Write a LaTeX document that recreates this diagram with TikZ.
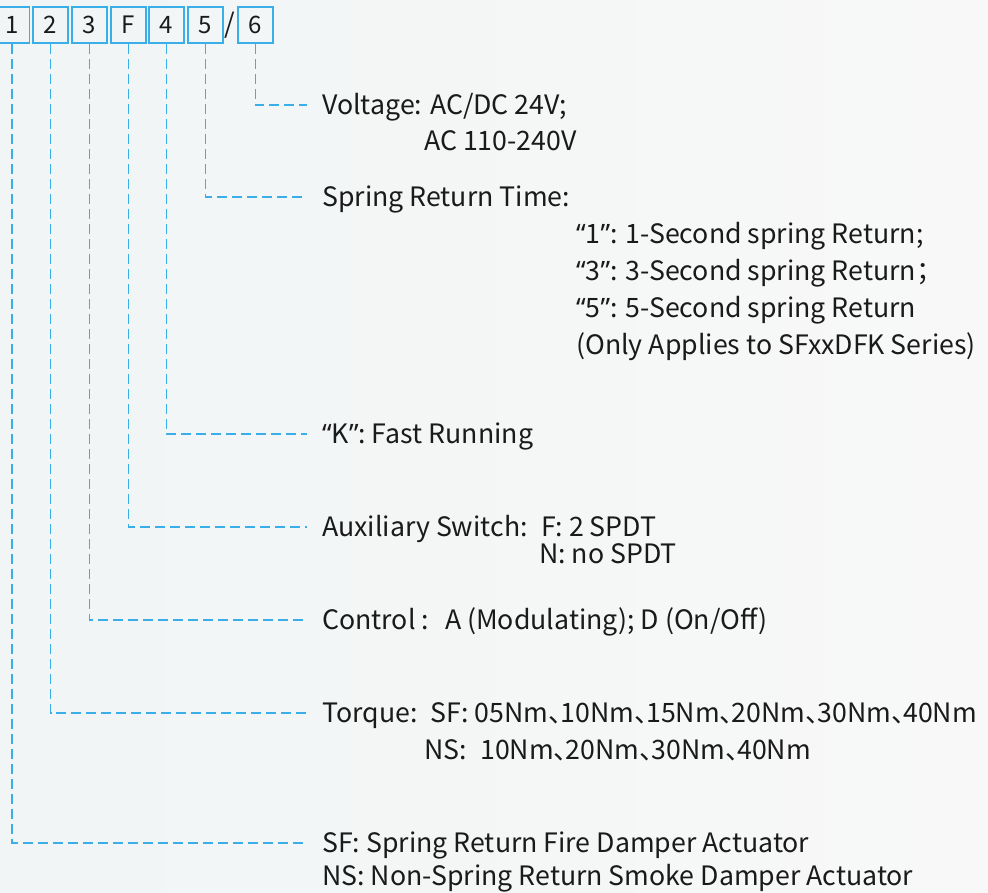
\documentclass[tikz,border=0pt]{standalone}
\usepackage{fontspec}
\setmainfont{Noto Sans CJK SC}
\newfontfamily\qf{Noto Sans}
\definecolor{lineblue}{HTML}{3AAEE6}
\definecolor{txt}{HTML}{1A1A1A}
\definecolor{bgL}{HTML}{F1F5F5}
\definecolor{bgR}{HTML}{F8F8F8}
\newcommand{\dun}{\makebox[0.45em][l]{、}}
\newcommand{\myoq}{{\qf “}}
\newcommand{\mycq}{{\qf ”}}
\begin{document}
\begin{tikzpicture}[x=1pt,y=-1pt,
  digit/.style={draw=lineblue,line width=1.8pt,minimum width=35pt,minimum height=36pt,inner sep=0pt,font=\fontsize{24}{26}\selectfont,text=txt},
  lead/.style={draw=lineblue,line width=1.8pt,dash pattern=on 10pt off 5pt},
  lbl/.style={anchor=west,inner xsep=0pt,inner ysep=0pt,text height=19.5pt,text depth=0pt,font=\fontsize{26.7}{32}\selectfont,text=txt},
]
\shade[left color=bgL,right color=bgR] (0,0) rectangle (988,892);
\useasboundingbox (0,0) rectangle (988,892);

% code boxes
\node[digit] (b1) at (12,25) {1};
\node[digit] (b2) at (50.5,25) {2};
\node[digit] (b3) at (89.5,25) {3};
\node[digit] (bF) at (128.5,25) {F};
\node[digit] (b4) at (166.5,25) {4};
\node[digit] (b5) at (205.5,25) {5};
\node[font=\fontsize{27}{29}\selectfont,text=txt,inner sep=0pt] (sl) at (229.5,25) {/};
\node[digit] (b6) at (255.5,25) {6};

% labels
\node[lbl] (volt) at (322,105) {Voltage: AC/DC 24V;};
\node[lbl] (volt2) at (424,141) {AC 110-240V};

\node[lbl] (spr) at (322,197) {Spring Return Time:};
\node[lbl] (spr1) at (576,234) {\myoq1\mycq: 1-Second spring Return;};
\node[lbl] (spr2) at (576,271) {\myoq3\mycq: 3-Second spring Return；};
\node[lbl] (spr3) at (576,308) {\myoq5\mycq: 5-Second spring Return};
\node[lbl] (spr4) at (576,345) {(Only Applies to SFxxDFK Series)};

\node[lbl] (fast) at (322,434) {\myoq K\mycq: Fast Running};

\node[lbl] (aux) at (322,527) {Auxiliary Switch:\hspace{0.5em}F: 2 SPDT};
\node[lbl] (aux2) at (539,554) {N: no SPDT};

\node[lbl] (ctl) at (322,620) {Control :\hspace{0.6em}A (Modulating); D (On/Off)};

\node[lbl] (tq) at (322,713) {Torque:\hspace{0.5em}SF: 05Nm\dun10Nm\dun15Nm\dun20Nm\dun30Nm\dun40Nm};
\node[lbl] (tq2) at (424,750) {NS:\hspace{0.5em}10Nm\dun20Nm\dun30Nm\dun40Nm};

\node[lbl] (typ) at (322,843) {SF: Spring Return Fire Damper Actuator};
\node[lbl] (typ2) at (322,876) {NS: Non-Spring Return Smoke Damper Actuator};

% leaders
\draw[lead] (b6.south) |- ([xshift=-15pt]volt.west);
\draw[lead] (b5.south) |- ([xshift=-15pt]spr.west);
\draw[lead] (b4.south) |- ([xshift=-15pt]fast.west);
\draw[lead] (bF.south) |- ([xshift=-15pt]aux.west);
\draw[lead] (b3.south) |- ([xshift=-15pt]ctl.west);
\draw[lead] (b2.south) |- ([xshift=-15pt]tq.west);
\draw[lead] (b1.south) |- ([xshift=-15pt]typ.west);
\end{tikzpicture}
\end{document}
